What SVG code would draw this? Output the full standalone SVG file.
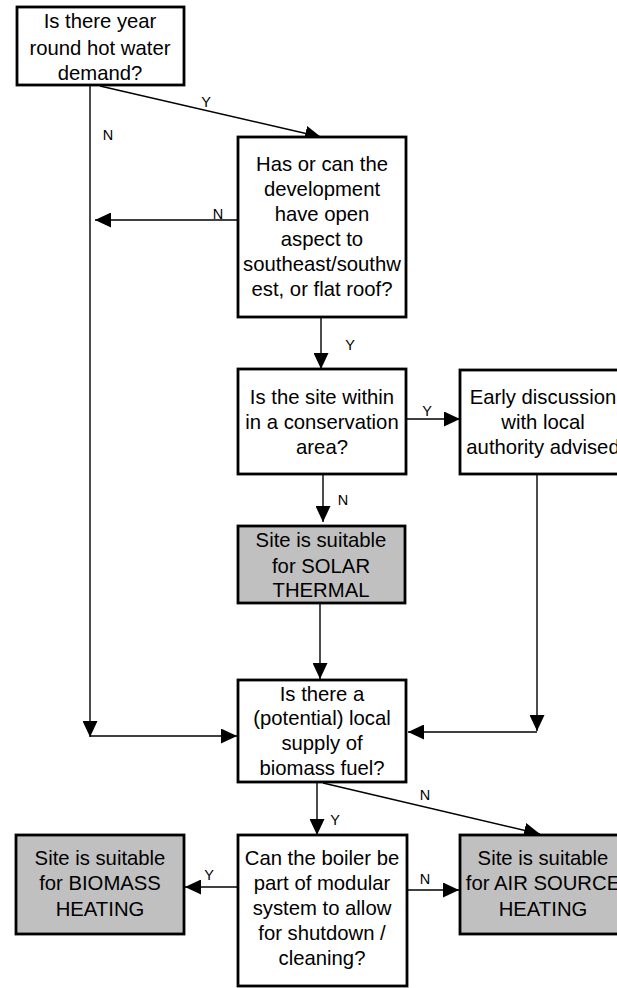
<svg xmlns="http://www.w3.org/2000/svg" width="617" height="988" viewBox="0 0 617 988">
<defs>
<marker id="ah" markerUnits="userSpaceOnUse" markerWidth="16" markerHeight="15" refX="16" refY="7.5" orient="auto">
<path d="M0,0 L16,7.5 L0,15 z" fill="#000"/>
</marker>
<style>
.box{fill:#fff;stroke:#000;stroke-width:2.8}
.res{fill:#c0c0c0;stroke:#000;stroke-width:2.8}
.t{font-family:"Liberation Sans",Arial,sans-serif;font-size:20.3px;fill:#000;text-anchor:middle}
.l{font-family:"Liberation Sans",Arial,sans-serif;font-size:14.5px;fill:#000;text-anchor:middle}
.a{fill:none;stroke:#000;stroke-width:1.4;marker-end:url(#ah)}
</style>
</defs>
<rect width="617" height="988" fill="#fff"/>
<g id="connectors">
<line class="a" x1="100" y1="86" x2="321" y2="137"/>
<line class="a" x1="90" y1="86" x2="90" y2="737"/>
<line class="a" x1="90" y1="736" x2="237" y2="736"/>
<line class="a" x1="238" y1="220" x2="95" y2="220"/>
<line class="a" x1="321" y1="318" x2="321" y2="369"/>
<line class="a" x1="406" y1="419" x2="460" y2="419"/>
<line class="a" x1="323" y1="474" x2="323" y2="522"/>
<line class="a" x1="320" y1="603" x2="320" y2="679"/>
<line class="a" x1="537" y1="474" x2="537" y2="731"/>
<line class="a" x1="537" y1="732" x2="408" y2="732"/>
<line class="a" x1="317" y1="783" x2="317" y2="835"/>
<line class="a" x1="323" y1="783" x2="540" y2="834"/>
<line class="a" x1="238" y1="887" x2="185" y2="887"/>
<line class="a" x1="407" y1="890" x2="459" y2="890"/>
<text class="l" x="206" y="107">Y</text>
<text class="l" x="108" y="140">N</text>
<text class="l" x="218" y="219">N</text>
<text class="l" x="350" y="350">Y</text>
<text class="l" x="427" y="416">Y</text>
<text class="l" x="343" y="505">N</text>
<text class="l" x="425" y="800">N</text>
<text class="l" x="335" y="825">Y</text>
<text class="l" x="209" y="880">Y</text>
<text class="l" x="425" y="884">N</text>
</g>
<g id="q1">
<rect class="box" x="17" y="7" width="167" height="78"/>
<text class="t" x="100" y="28">Is there year</text>
<text class="t" x="100" y="54.5">round hot water</text>
<text class="t" x="100" y="80">demand?</text>
</g>
<g id="q2">
<rect class="box" x="238" y="137" width="168" height="180"/>
<text class="t" x="322" y="170.5">Has or can the</text>
<text class="t" x="322" y="195.5">development</text>
<text class="t" x="322" y="220.5">have open</text>
<text class="t" x="322" y="245.5">aspect to</text>
<text class="t" x="322" y="270.5">southeast/southw</text>
<text class="t" x="322" y="295.5">est, or flat roof?</text>
</g>
<g id="q3">
<rect class="box" x="238" y="369" width="168" height="105"/>
<text class="t" x="322" y="404">Is the site within</text>
<text class="t" x="322" y="429">in a conservation</text>
<text class="t" x="322" y="454">area?</text>
</g>
<g id="early">
<rect class="box" x="460" y="370" width="170" height="104"/>
<text class="t" x="543" y="404">Early discussion</text>
<text class="t" x="543" y="429">with local</text>
<text class="t" x="543" y="454">authority advised</text>
</g>
<g id="solar">
<rect class="res" x="238" y="526" width="167" height="77"/>
<text class="t" x="321" y="547">Site is suitable</text>
<text class="t" x="321" y="572.5">for SOLAR</text>
<text class="t" x="321" y="597">THERMAL</text>
</g>
<g id="q4">
<rect class="box" x="238" y="680" width="168" height="102"/>
<text class="t" x="322" y="700.5">Is there a</text>
<text class="t" x="322" y="725">(potential) local</text>
<text class="t" x="322" y="750">supply of</text>
<text class="t" x="322" y="774.5">biomass fuel?</text>
</g>
<g id="biomass">
<rect class="res" x="16" y="835" width="168" height="99"/>
<text class="t" x="100" y="865">Site is suitable</text>
<text class="t" x="100" y="890">for BIOMASS</text>
<text class="t" x="100" y="915.5">HEATING</text>
</g>
<g id="q5">
<rect class="box" x="238" y="835" width="169" height="151"/>
<text class="t" x="322" y="865">Can the boiler be</text>
<text class="t" x="322" y="890">part of modular</text>
<text class="t" x="322" y="915">system to allow</text>
<text class="t" x="322" y="940">for shutdown /</text>
<text class="t" x="322" y="965">cleaning?</text>
</g>
<g id="airsource">
<rect class="res" x="460" y="835" width="170" height="99"/>
<text class="t" x="543" y="865">Site is suitable</text>
<text class="t" x="543" y="890">for AIR SOURCE</text>
<text class="t" x="543" y="915.5">HEATING</text>
</g>
</svg>
